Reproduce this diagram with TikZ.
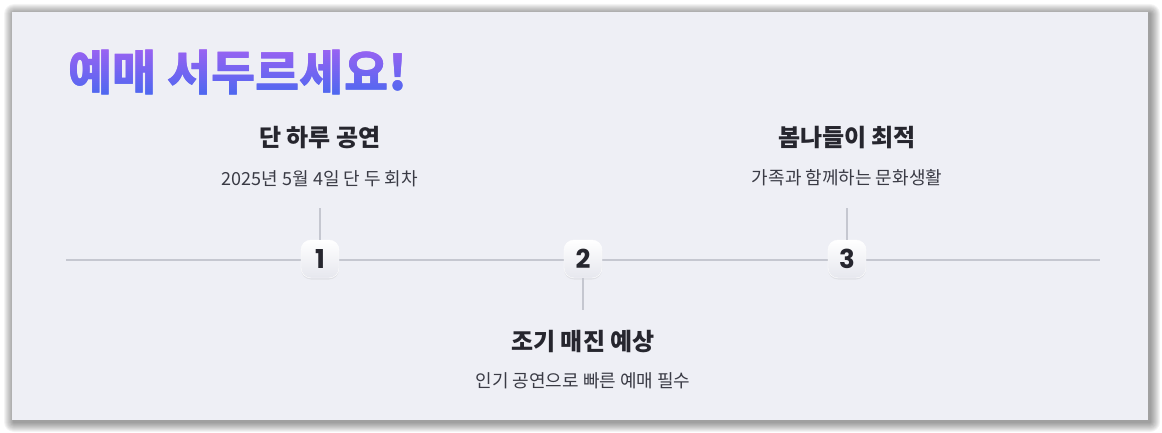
\documentclass[tikz,border=0pt]{standalone}
\usepackage{fontspec}
\setmainfont{Noto Sans CJK KR}
\newfontfamily\cifre{Poppins}
\usetikzlibrary{shadows}
\definecolor{sfondo}{HTML}{EEEFF5}
\definecolor{inchiostro}{HTML}{26262E}
\definecolor{grigiotesto}{HTML}{3A3B45}
\definecolor{grigiolinea}{HTML}{C5C7D0}
\definecolor{viola}{HTML}{A262F2}
\definecolor{blu}{HTML}{4868F0}
\definecolor{fondobadge}{HTML}{E6E7EE}

\begin{document}
\begin{tikzpicture}[x=1pt, y=-1pt,
    grande/.style = {font=\bfseries\fontsize{48}{56}\selectfont, inner sep=0pt, anchor=west},
    titolo/.style = {font=\bfseries\fontsize{24}{28}\selectfont, text=inchiostro},
    sotto/.style = {font=\fontsize{18}{22}\selectfont, text=grigiotesto},
    badge/.style = {rounded corners=10pt, minimum size=38pt, inner sep=0pt,
        top color=white, bottom color=fondobadge, draw=white,
        drop shadow={opacity=0.12, shadow xshift=0pt, shadow yshift=-1.5pt},
        text=inchiostro, font=\cifre\bfseries\fontsize{26}{30}\selectfont},
    linea/.style = {draw=grigiolinea, line width=1.4pt}]
    % Parametri
    \pgfmathsetmacro{\ylinea}{260}
    \useasboundingbox (0,0) rectangle (1162,433);
    \fill[white] (0,0) rectangle (1162,433);
    % Ombra e pannello
    \foreach \i in {1,...,10}
        \fill[black, opacity=0.045, rounded corners=\i pt] (14-\i,14-\i) rectangle (1150+\i,422+\i);
    \fill[sfondo] (12,12) rectangle (1148,420);
    % Titolo sfumato (a strisce)
    \foreach \k in {0,...,27} {
        \pgfmathsetmacro{\p}{100*\k/27}
        \begin{scope}
            \clip (40,44+2*\k) rectangle (440,46.4+2*\k);
            \node[grande, text=blu!\p!viola] (tit\k) at (68,73) {예매 서두르세요!};
        \end{scope}
    }
    % Linea del tempo
    \coordinate (inizio) at (66,\ylinea);
    \coordinate (fine) at (1100,\ylinea);
    \draw[linea] (inizio) -- (fine);
    % Tappe
    \node[badge] (b1) at (320,259) {1};
    \node[badge] (b2) at (583,259) {2};
    \node[badge] (b3) at (847,259) {3};
    \coordinate (s1) at (320,208);
    \coordinate (s2) at (583,310);
    \coordinate (s3) at (847,208);
    \draw[linea] (s1) -- (b1.north);
    \draw[linea] (b2.south) -- (s2);
    \draw[linea] (s3) -- (b3.north);
    % Testi
    \node[titolo] (t1) at (320,138) {단 하루 공연};
    \node[sotto] (d1) at (320,179) {2025년 5월 4일 단 두 회차};
    \node[titolo] (t2) at (583,342) {조기 매진 예상};
    \node[sotto] (d2) at (583,381) {인기 공연으로 빠른 예매 필수};
    \node[titolo] (t3) at (847,138) {봄나들이 최적};
    \node[sotto] (d3) at (847,178) {가족과 함께하는 문화생활};
\end{tikzpicture}
\end{document}
